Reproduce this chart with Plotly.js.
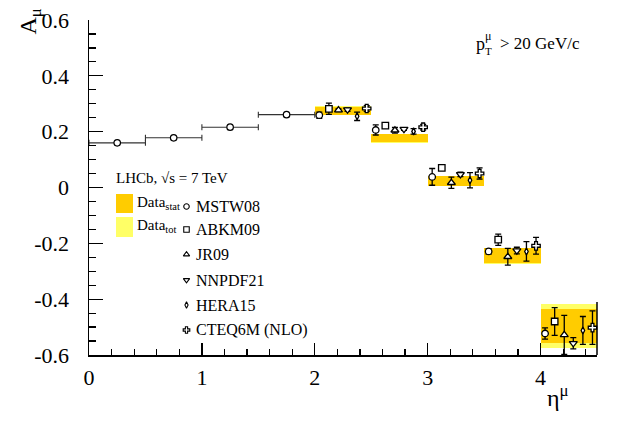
<!DOCTYPE html>
<html>
<head>
<meta charset="utf-8">
<script src="https://cdn.plot.ly/plotly-3.0.1.min.js"></script>
<style>html,body{margin:0;padding:0;background:#fff;}#chart{width:628px;height:425px;}</style>
</head>
<body>
<div id="chart"></div>
<script>
// ---- data ----
const binEdges = [2.0, 2.5, 3.0, 3.5, 4.0, 4.5];
const dataCenter = [0.275, 0.177, 0.0235, -0.245, -0.4955];
const dataStat = [0.014, 0.0145, 0.0165, 0.027, 0.06];
const dataTot = [0.0155, 0.016, 0.018, 0.029, 0.079];

const lowEtaX = [0.25, 0.75, 1.25, 1.75];
const lowEtaHalfWidth = [0.25, 0.25, 0.25, 0.25];
const lowEtaMSTW = [0.160, 0.178, 0.216, 0.261];

const modelNames = ["MSTW08", "ABKM09", "JR09", "NNPDF21", "HERA15", "CTEQ6M (NLO)"];
const mstw08 = [0.259, 0.206, 0.038, -0.229, -0.523];
const mstw08Err = [0.011, 0.018, 0.030, 0.010, 0.020];
const abkm09 = [0.282, 0.222, 0.070, -0.187, -0.480];
const abkm09Err = [0.020, 0.004, 0.004, 0.020, 0.050];
const jr09 = [0.277, 0.205, 0.017, -0.248, -0.528];
const jr09Err = [0.005, 0.010, 0.020, 0.030, 0.070];
const nnpdf21 = [0.279, 0.209, 0.047, -0.226, -0.558];
const nnpdf21Err = [0.006, 0.004, 0.008, 0.012, 0.020];
const hera15 = [0.255, 0.201, 0.026, -0.229, -0.512];
const hera15Err = [0.015, 0.010, 0.027, 0.035, 0.050];
const cteq6m = [0.283, 0.216, 0.050, -0.209, -0.502];
const cteq6mErr = [0.010, 0.010, 0.020, 0.030, 0.060];

const xTickVals = [0, 1, 2, 3, 4];
const yTickVals = [-0.6, -0.4, -0.2, 0, 0.2, 0.4, 0.6];

// ---- build ----
const binLo = binEdges.slice(0, -1);
const binCenters = binLo.map((lo, i) => (lo + binEdges[i + 1]) / 2);
const binWidths = binLo.map((lo, i) => binEdges[i + 1] - lo);

const modelVals = [mstw08, abkm09, jr09, nnpdf21, hera15, cteq6m];
const modelErrs = [mstw08Err, abkm09Err, jr09Err, nnpdf21Err, hera15Err, cteq6mErr];
const symbols = ["circle", "square", "triangle-up", "triangle-down", "diamond-tall", "cross"];
const sizes = [6.5, 6.5, 7, 7, 5, 7];
const offsets = [0.04, 0.125, 0.21, 0.29, 0.375, 0.46];

const SERIF = "Liberation Serif, Times New Roman, serif";
const traces = [];

traces.push({
  type: "bar", x: binCenters, width: binWidths,
  base: dataCenter.map((c, i) => c - dataTot[i]),
  y: dataTot.map(e => 2 * e),
  marker: {color: "#FFFF66", line: {width: 0}},
  hoverinfo: "skip", showlegend: false
});
traces.push({
  type: "bar", x: binCenters, width: binWidths,
  base: dataCenter.map((c, i) => c - dataStat[i]),
  y: dataStat.map(e => 2 * e),
  marker: {color: "#FFCC00", line: {width: 0}},
  hoverinfo: "skip", showlegend: false
});

traces.push({
  type: "scatter", mode: "markers", x: lowEtaX, y: lowEtaMSTW,
  error_x: {type: "data", array: lowEtaHalfWidth, color: "#333", thickness: 1.1, width: 3},
  marker: {symbol: "circle", size: 6.5, color: "white", line: {color: "black", width: 1.2}},
  showlegend: false, cliponaxis: false
});

modelVals.forEach((vals, m) => {
  traces.push({
    type: "scatter", mode: "markers",
    x: binLo.map(lo => lo + offsets[m]), y: vals,
    error_y: {type: "data", array: modelErrs[m], color: "black", thickness: 1.3, width: 3},
    marker: {symbol: symbols[m], size: sizes[m], color: "white", line: {color: "black", width: 1.3}},
    showlegend: false, cliponaxis: false
  });
});

// legend markers in pixel-space overlay axes
const legY = [206.5, 229.5, 254.5, 280, 305, 330];
modelNames.forEach((n, m) => {
  traces.push({
    type: "scatter", mode: "markers", xaxis: "x2", yaxis: "y2",
    x: [186.5], y: [legY[m]],
    marker: {symbol: symbols[m], size: m === 4 ? 4.5 : 5.5, color: "white", line: {color: "black", width: 1.1}},
    showlegend: false, hoverinfo: "skip"
  });
});

const annotations = [];
function lab(text, x, y, size, xanchor) {
  // x, y in page pixels
  annotations.push({
    text: text, xref: "paper", yref: "paper",
    x: (x - 89) / 508, y: (355 - y) / 335, showarrow: false,
    xanchor: xanchor || "left", yanchor: "middle",
    font: {family: SERIF, size: size, color: "black"}
  });
}
lab("LHCb, √s = 7 TeV", 114, 178.5, 15);
lab("Data<sub>stat</sub>", 135, 203, 15);
lab("Data<sub>tot</sub>", 135, 226, 15);
modelNames.forEach((n, m) => lab(n, 194, legY[m], 16));
// pT label
lab("p", 474, 44, 18);
lab("μ", 483, 36, 12);
lab("T", 483, 51, 11);
lab("> 20 GeV/c", 498, 43, 17);
// axis titles
lab("η<sup>μ</sup>", 545, 396, 24);
annotations.push({
  text: "A<sub>μ</sub>", xref: "paper", yref: "paper", x: (30 - 89) / 508, y: 1.04,
  xanchor: "center", yanchor: "top", textangle: -90, showarrow: false,
  font: {family: SERIF, size: 24, color: "black"}
});

const shapes = [
  {type: "rect", xref: "x2", yref: "y2", x0: 116, x1: 133, y0: 194, y1: 213, fillcolor: "#FFCC00", line: {width: 0}},
  {type: "rect", xref: "x2", yref: "y2", x0: 116, x1: 133, y0: 217, y1: 237, fillcolor: "#FFFF66", line: {width: 0}},
  {type: "line", xref: "paper", yref: "y", x0: 1, x1: 1, y0: -0.6, y1: -0.41, line: {color: "black", width: 1.5}}
];

const layout = {
  width: 628, height: 425,
  margin: {l: 89, r: 31, t: 20, b: 70, pad: 0},
  paper_bgcolor: "white", plot_bgcolor: "white",
  barmode: "overlay", bargap: 0,
  font: {family: SERIF, size: 22, color: "black"},
  showlegend: false,
  xaxis: {
    range: [0, 4.5], tickvals: xTickVals, ticktext: xTickVals.map(String),
    ticks: "inside", ticklen: 12, tickwidth: 1.3, tickcolor: "black",
    minor: {dtick: 0.2, ticks: "inside", ticklen: 6, tickwidth: 1.2, tickcolor: "black"},
    showline: true, linecolor: "black", linewidth: 1.5, showgrid: false, zeroline: false,
    tickfont: {family: SERIF, size: 22}, ticklabelstandoff: 2
  },
  yaxis: {
    range: [-0.6, 0.6], tickvals: yTickVals,
    ticktext: yTickVals.map(v => v === 0 ? "0" : v.toFixed(1)),
    ticks: "inside", ticklen: 14, tickwidth: 1.3, tickcolor: "black",
    minor: {dtick: 0.05, ticks: "inside", ticklen: 7, tickwidth: 1.2, tickcolor: "black"},
    showline: true, linecolor: "black", linewidth: 1.5, showgrid: false, zeroline: false,
    tickfont: {family: SERIF, size: 22}, ticklabelstandoff: 14
  },
  xaxis2: {overlaying: "x", range: [89, 597], visible: false, fixedrange: true},
  yaxis2: {overlaying: "y", range: [355, 20], visible: false, fixedrange: true},
  annotations: annotations,
  shapes: shapes
};

Plotly.newPlot("chart", traces, layout, {displayModeBar: false, staticPlot: true});
</script>
</body>
</html>
